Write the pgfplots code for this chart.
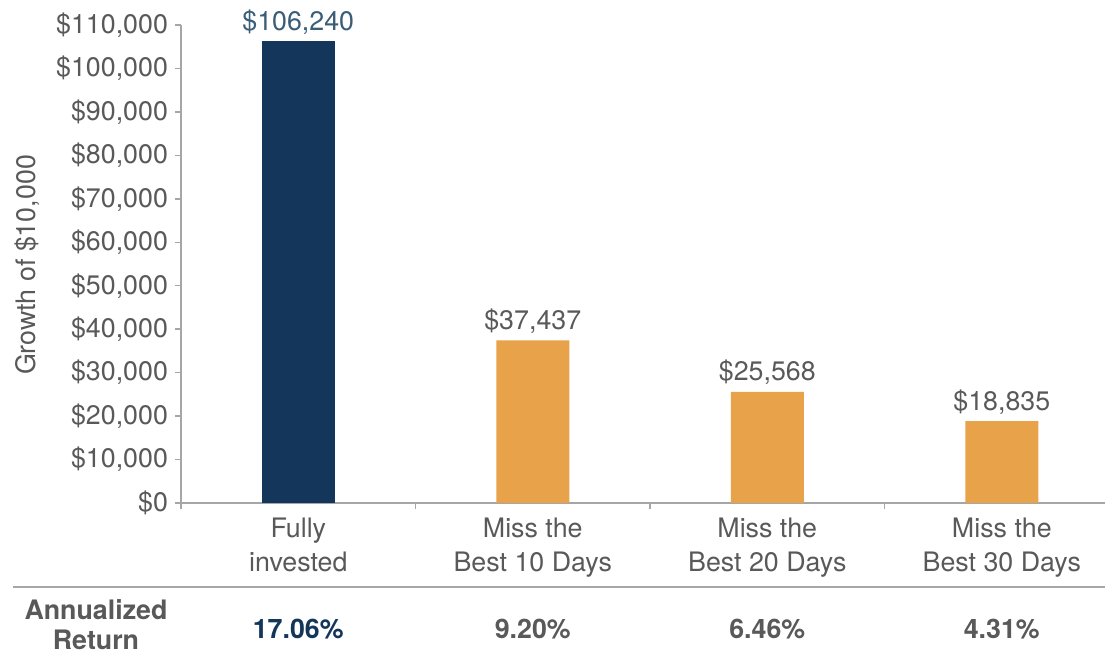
\documentclass[border=0pt]{standalone}
\usepackage{pgfplots}
\pgfplotsset{compat=1.18}
\usepackage{fontspec}
\setmainfont{TeX Gyre Heros}
\definecolor{navy}{HTML}{14365A}
\definecolor{gold}{HTML}{E8A24A}
\definecolor{txt}{HTML}{595959}
\definecolor{lbl}{HTML}{3A5D78}
\definecolor{axisgray}{HTML}{A6A6A6}
\begin{document}
\begin{tikzpicture}[font=\fontsize{13.4}{16.5}\selectfont]
\useasboundingbox (-90.5pt,-75pt) rectangle (462pt,251.5pt);
\begin{axis}[
  scale only axis, width=462pt, height=239pt,
  xmin=-0.5, xmax=3.44, ymin=0, ymax=110000,
  clip=false,
  axis x line*=bottom, axis y line*=left,
  axis line style={axisgray, line width=0.75pt},
  tick style={axisgray, line width=0.75pt},
  tick align=outside, major tick length=3pt,
  ytick={0,10000,...,110000},
  scaled y ticks=false,
  /pgf/number format/assume math mode=true,
  /pgf/number format/fixed,
  /pgf/number format/precision=0,
  /pgf/number format/1000 sep={,},
  yticklabel={\$\pgfmathprintnumber{\tick}},
  xtick={-0.5,0.5,1.5,2.5},
  xticklabels={},
  extra x ticks={0,1,2,3},
  extra x tick labels={Fully\\invested, Miss the\\Best 10 Days, Miss the\\Best 20 Days, Miss the\\Best 30 Days},
  extra x tick style={major tick length=0pt, tick label style={align=center, text=txt, font=\fontsize{13.4}{16.8}\selectfont, yshift=-4pt}},
  tick label style={text=txt},
  ybar, bar width=36.5pt, bar shift=0pt,
]
\addplot[fill=navy, draw=none, nodes near coords={\$\pgfmathprintnumber{\pgfplotspointmeta}}, every node near coord/.append style={text=lbl}] coordinates {(0,106240)};
\addplot[fill=gold, draw=none, nodes near coords={\$\pgfmathprintnumber{\pgfplotspointmeta}}, every node near coord/.append style={text=txt}] coordinates {(1,37437) (2,25568) (3,18835)};
\node[font=\fontsize{13.4}{15}\selectfont\bfseries, text=navy] at (axis cs:0,0) [yshift=-63pt] {17.06\%};
\node[font=\fontsize{13.4}{15}\selectfont\bfseries, text=txt] at (axis cs:1,0) [yshift=-63pt] {9.20\%};
\node[font=\fontsize{13.4}{15}\selectfont\bfseries, text=txt] at (axis cs:2,0) [yshift=-63pt] {6.46\%};
\node[font=\fontsize{13.4}{15}\selectfont\bfseries, text=txt] at (axis cs:3,0) [yshift=-63pt] {4.31\%};
\end{axis}
\draw[axisgray, line width=0.75pt] (-84pt,-42pt) -- (462pt,-42pt);
\node[align=center, text=txt, font=\fontsize{13.4}{15}\selectfont\bfseries] at (-42.5pt,-61pt) {Annualized\\Return};
\node[rotate=90, text=txt] at (-77pt,119pt) {Growth of \$10,000};
\end{tikzpicture}
\end{document}
